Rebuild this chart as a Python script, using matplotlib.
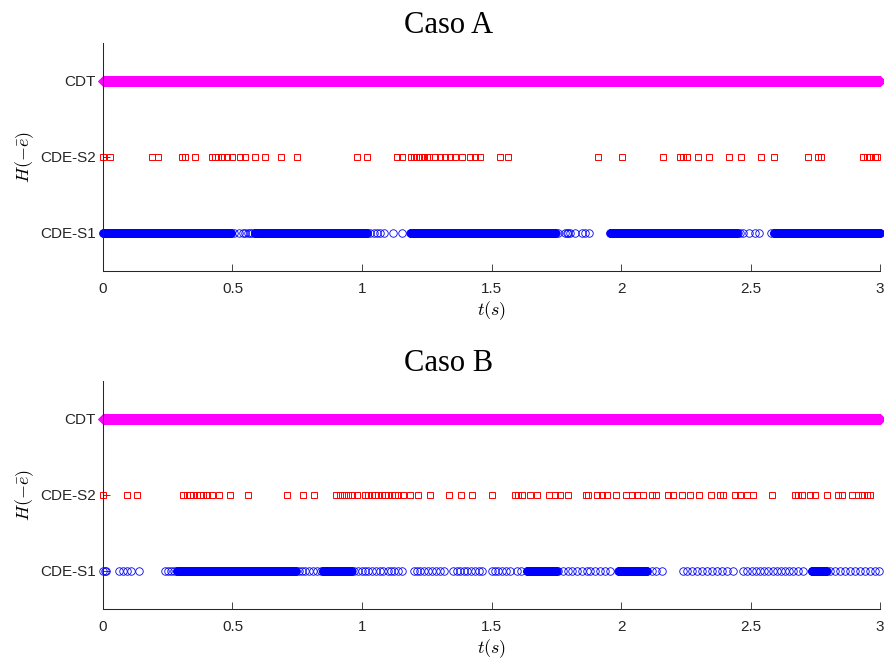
"""
Activity of the three detectors (CDT, CDE-S2, CDE-S1) over time, two cases.
"""

import numpy as np
import matplotlib.pyplot as plt

plt.rcParams['mathtext.fontset'] = 'cm'
plt.rcParams['font.family'] = ['Liberation Sans', 'DejaVu Sans']

# simulation time grid (s)
dt = 0.001
t_end = 3.0
t = np.round(np.arange(0, t_end + dt / 2, dt), 3)

levels = [1, 2, 3]
level_labels = ['CDE-S1', 'CDE-S2', 'CDT']
x_ticks = [0, 0.5, 1, 1.5, 2, 2.5, 3]
x_tick_labels = ['0', '0.5', '1', '1.5', '2', '2.5', '3']

# ---- Caso A ----
a_s2 = [0.001, 0.027, 0.188, 0.211, 0.306, 0.317, 0.355, 0.420, 0.432, 0.445,
        0.458, 0.477, 0.497, 0.529, 0.548, 0.587, 0.625, 0.687, 0.750, 0.979,
        1.020, 1.134, 1.153, 1.190, 1.200, 1.210, 1.220, 1.230, 1.240, 1.250,
        1.260, 1.280, 1.300, 1.320, 1.340, 1.360, 1.385, 1.417, 1.436, 1.456,
        1.533, 1.565, 1.912, 2.005, 2.163, 2.228, 2.241, 2.254, 2.298, 2.340,
        2.418, 2.462, 2.539, 2.592, 2.721, 2.762, 2.771, 2.936, 2.949, 2.961,
        2.981, 2.990]
a_s1_dense = [(0.0, 0.495), (0.585, 1.020), (1.187, 1.748), (1.958, 2.447),
              (2.590, 3.0)]
a_s1_points = [0.505, 0.527, 0.540, 0.550, 0.558, 0.566, 0.575,
               1.030, 1.045, 1.058, 1.070, 1.085, 1.121, 1.153,
               1.758, 1.784, 1.790, 1.796, 1.803, 1.822, 1.848, 1.861, 1.878,
               2.453, 2.460, 2.472, 2.495, 2.517, 2.534, 2.578]

# ---- Caso B ----
b_s2 = [0.001, 0.094, 0.130, 0.310, 0.323, 0.336, 0.349, 0.362, 0.374, 0.387,
        0.400, 0.419, 0.448, 0.490, 0.561, 0.712, 0.773, 0.815, 0.898, 0.915,
        0.932, 0.947, 0.963, 0.979, 1.011, 1.024, 1.037, 1.050, 1.063, 1.076,
        1.089, 1.102, 1.115, 1.127, 1.140, 1.160, 1.185, 1.217, 1.263, 1.337,
        1.381, 1.423, 1.501, 1.591, 1.604, 1.617, 1.649, 1.675, 1.723, 1.745,
        1.765, 1.797, 1.865, 1.874, 1.909, 1.925, 1.947, 1.981, 2.019, 2.041,
        2.060, 2.084, 2.118, 2.137, 2.183, 2.202, 2.234, 2.266, 2.302, 2.346,
        2.382, 2.395, 2.440, 2.459, 2.485, 2.511, 2.582, 2.672, 2.685, 2.697,
        2.730, 2.749, 2.796, 2.839, 2.852, 2.890, 2.916, 2.929, 2.948, 2.961]
b_s1_dense = [(0.285, 0.745), (0.848, 0.960), (1.636, 1.751), (1.990, 2.100),
              (2.736, 2.794)]
b_s1_points = [0.000, 0.006, 0.013, 0.062, 0.077, 0.092, 0.108, 0.139,
               0.239, 0.250, 0.262, 0.276,
               0.758, 0.770, 0.781, 0.795, 0.810, 0.826, 0.840,
               0.970, 0.985, 1.000, 1.012, 1.025, 1.040, 1.055, 1.070, 1.082,
               1.100, 1.112, 1.125, 1.140, 1.155,
               1.200, 1.213, 1.225, 1.240, 1.255, 1.270, 1.285, 1.300, 1.315,
               1.350, 1.365, 1.378, 1.392, 1.405, 1.420, 1.437, 1.452, 1.465,
               1.500, 1.512, 1.525, 1.540, 1.555, 1.570, 1.600, 1.614,
               1.758, 1.777, 1.796, 1.809, 1.829, 1.848, 1.867, 1.880, 1.899,
               1.919, 1.938, 1.957, 2.118, 2.137, 2.157,
               2.240, 2.256, 2.273, 2.292, 2.311, 2.331, 2.350, 2.369, 2.388,
               2.410, 2.434, 2.472, 2.488, 2.504, 2.521, 2.536, 2.552, 2.569,
               2.585, 2.601, 2.616, 2.633, 2.650, 2.665, 2.684, 2.704,
               2.807, 2.826, 2.845, 2.865, 2.884, 2.903, 2.923, 2.942, 2.961,
               2.981, 2.997]


def active_times(intervals, points):
    """Times of the grid that lie in the intervals, plus the single points."""
    mask = np.zeros_like(t, dtype=bool)
    for start, end in intervals:
        mask |= (t >= start) & (t <= end)
    return np.sort(np.concatenate([t[mask], np.asarray(points, dtype=float)]))


def plot_case(ax, title, s1, s2):
    """One panel: the three detector rows against time."""
    ax.plot(s1, np.full(len(s1), levels[0]), 'o', mfc='none', mec=(0, 0, 1),
            ms=5.4, mew=0.6, clip_on=False)
    ax.plot(s2, np.full(len(s2), levels[1]), 's', mfc='none', mec=(1, 0, 0),
            ms=4.8, mew=0.7, clip_on=False)
    ax.plot(t, np.full(len(t), levels[2]), 'D', mfc=(1, 0, 1), mec=(1, 0, 1),
            ms=5.4, mew=0.5, clip_on=False)

    ax.set_xlim(0, t_end)
    ax.set_ylim(0.5, 3.5)
    ax.set_xticks(x_ticks)
    ax.set_xticklabels(x_tick_labels)
    ax.set_yticks(levels)
    ax.set_yticklabels(level_labels)
    ax.tick_params(direction='in', length=5, width=0.6, colors='#262626',
                   labelsize=11)
    ax.tick_params(axis='x', pad=8)
    ax.tick_params(axis='y', pad=5)
    for side in ('top', 'right'):
        ax.spines[side].set_visible(False)
    for side in ('left', 'bottom'):
        ax.spines[side].set_color('#262626')
        ax.spines[side].set_linewidth(0.75)

    ax.set_xlabel(r'$t(s)$', fontsize=13, labelpad=2)
    ax.set_ylabel(r'$H(-\bar{e})$', fontsize=13, labelpad=3)
    ax.set_title(title, fontsize=22, family='Liberation Serif', pad=7, x=0.445)


fig = plt.figure(figsize=(8.84, 6.59), dpi=100)
ax_a = fig.add_axes([0.1165, 0.5888, 0.879, 0.346])
ax_b = fig.add_axes([0.1165, 0.0759, 0.879, 0.346])

plot_case(ax_a, 'Caso A', active_times(a_s1_dense, a_s1_points), a_s2)
plot_case(ax_b, 'Caso B', active_times(b_s1_dense, b_s1_points), b_s2)

fig.savefig('out.png', dpi=100)
